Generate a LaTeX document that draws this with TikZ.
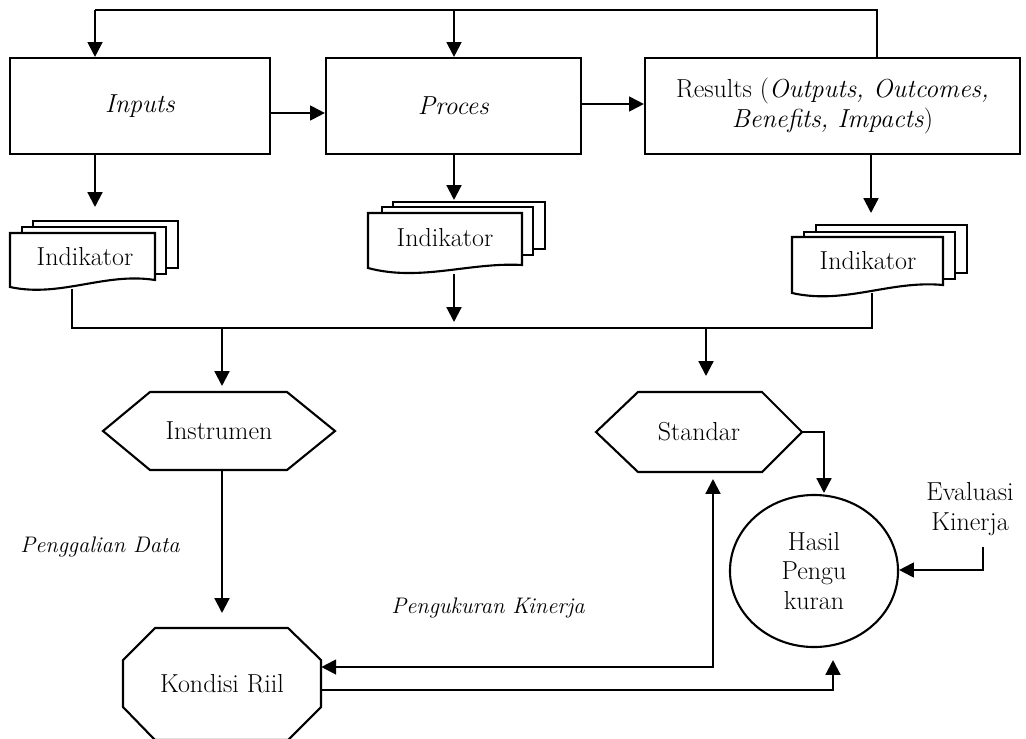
\documentclass[tikz,border=0pt]{standalone}
\usetikzlibrary{arrows.meta,shapes.geometric}
\begin{document}
\begin{tikzpicture}[x=0.025cm,y=-0.025cm,
  every node/.style={font=\fontsize{18.5}{21}\selectfont},
  ln/.style={line width=1.5pt},
  arr/.style={line width=1.5pt,-{Triangle[length=0.37cm,width=0.37cm]}},
  arrb/.style={line width=1.5pt,{Triangle[length=0.37cm,width=0.37cm]}-{Triangle[length=0.37cm,width=0.37cm]}},
  box/.style={draw,line width=1.5pt,minimum height=2.4cm,inner sep=0pt,align=center},
  shp/.style={line width=1.5pt,fill=white},
  lbl/.style={inner sep=0pt,align=center},
  ilbl/.style={inner sep=0pt,font=\fontsize{16}{19}\selectfont\itshape},
  ]
\useasboundingbox (0,0) rectangle (1026,738);

% top boxes
\node[box,minimum width=6.5cm] (inp) at (140,106) {\textit{Inputs}};
\node[box,minimum width=6.375cm] (pro) at (453.5,106) {\textit{Proces}};
\node[box,minimum width=9.375cm] (res) at (832.5,106) {Results (\textit{Outputs, Outcomes,}\\\textit{Benefits, Impacts})};

% feedback line on top
\coordinate (t1) at (95,10);
\coordinate (t2) at (454,10);
\coordinate (t3) at (877,10);
\draw[ln] (res.north -| t3) -- (t3) -- (t1);
\draw[arr] (t1) -- (inp.north -| t1);
\draw[arr] (t2) -- (pro.north -| t2);

% horizontal flow
\coordinate (h1) at (0,113);
\coordinate (h2) at (0,104);
\draw[arr] (inp.east |- h1) -- (pro.west |- h1);
\draw[arr] (pro.east |- h2) -- (res.west |- h2);

% document stacks
% left
\draw[shp] (33,221) rectangle (178,268);
\draw[shp] (22,227) rectangle (166,274);
\draw[shp] (10,233) -- (155,233) -- (155,280) .. controls (105,272) and (60,298) .. (10,287) -- cycle;
\node[lbl] (d1) at (85,257) {Indikator};
% middle
\draw[shp] (393,202) rectangle (545,249);
\draw[shp] (382,207) rectangle (533,255);
\draw[shp] (368,213) -- (522,213) -- (522,265) .. controls (470,262) and (420,282) .. (368,268) -- cycle;
\node[lbl] (d2) at (445,238) {Indikator};
% right
\draw[shp] (816,225) rectangle (967,273);
\draw[shp] (804,232) rectangle (955,279);
\draw[shp] (792,237) -- (943,237) -- (943,285) .. controls (890,280) and (845,305) .. (792,293) -- cycle;
\node[lbl] (d3) at (868,261) {Indikator};

% arrows from boxes to documents
\coordinate (a1) at (95,207);
\coordinate (a2) at (454,200);
\coordinate (a3) at (871,213);
\draw[arr] (inp.south -| a1) -- (a1);
\draw[arr] (pro.south -| a2) -- (a2);
\draw[arr] (res.south -| a3) -- (a3);

% collecting line
\coordinate (c1) at (72,289);
\coordinate (c1b) at (72,328);
\coordinate (c3) at (872,293);
\coordinate (c3b) at (872,328);
\draw[ln] (c1) -- (c1b) -- (c3b) -- (c3);
\coordinate (m1) at (454,274);
\coordinate (m2) at (454,322);
\draw[arr] (m1) -- (m2);

% Instrumen hexagon
\draw[shp] (103,431) -- (150,392) -- (287,392) -- (335,431) -- (287,470) -- (150,470) -- cycle;
\node[lbl,minimum width=5.8cm,minimum height=1.95cm] (ins) at (219,431) {Instrumen};
% Standar hexagon
\draw[shp] (596,432) -- (638,392) -- (762,392) -- (802,432) -- (762,472) -- (638,472) -- cycle;
\node[lbl,minimum width=5.15cm,minimum height=2cm] (std) at (699,432) {Standar};

\coordinate (s1) at (222,328);
\coordinate (s1t) at (222,386);
\coordinate (s2) at (706,328);
\coordinate (s2t) at (706,376);
\draw[arr] (s1) -- (s1t);
\draw[arr] (s2) -- (s2t);

% Kondisi Riil octagon
\draw[shp] (155,628) -- (288,628) -- (321,660) -- (321,707) -- (288,740) -- (155,740) -- (123,707) -- (123,660) -- cycle;
\node[lbl,minimum width=4.95cm,minimum height=2.8cm] (kon) at (222,684) {Kondisi Riil};

% Hasil Pengukuran
\node[draw,ellipse,line width=1.5pt,inner sep=0pt,minimum width=4.2cm,minimum height=3.8cm,align=center] (hp) at (814,571) {Hasil\\Pengu\\kuran};

% Evaluasi Kinerja
\node[lbl] (ev) at (970,509) {Evaluasi\\Kinerja};

% connectors lower part
\coordinate (k1) at (222,613);
\draw[arr] (ins.south -| k1) -- (k1);

\coordinate (p1) at (713,479);
\coordinate (p2) at (713,667);
\draw[arrb] (p1) -- (p2) -- (kon.east |- p2);

\coordinate (q1) at (833,690);
\coordinate (q2) at (833,660);
\draw[arr] (kon.east |- q1) -- (q1) -- (q2);

\coordinate (r1) at (824,432);
\coordinate (r2) at (824,493);
\draw[arr] (std.east) -- (r1) -- (r2);

\coordinate (e1) at (983,547);
\coordinate (e2) at (983,570);
\draw[arr] (e1) -- (e2) -- (hp.east |- e2);

% labels
\node[ilbl] (lpg) at (100,547) {Penggalian Data};
\node[ilbl] (lpk) at (488,608) {Pengukuran Kinerja};
\end{tikzpicture}
\end{document}
